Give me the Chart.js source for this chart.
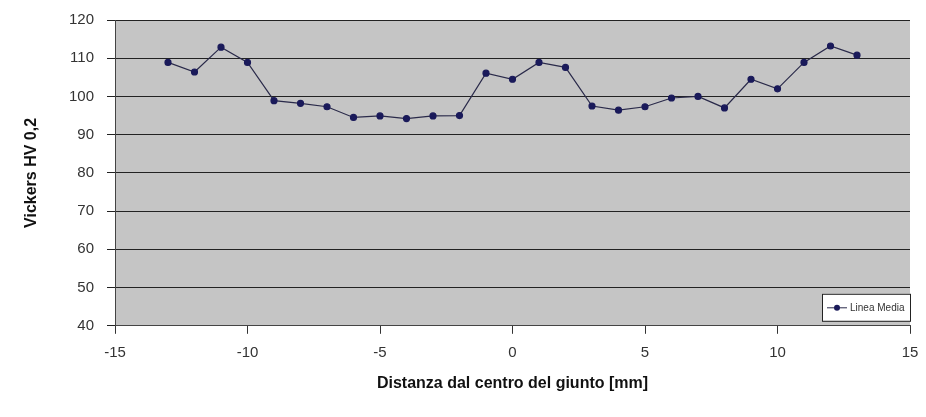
<!DOCTYPE html>
<html><head><meta charset="utf-8">
<script src="https://cdn.jsdelivr.net/npm/chart.js@4.4.1/dist/chart.umd.min.js"></script>
<style>html,body{margin:0;padding:0;background:#fff}#wrap{width:926px;height:417px}</style>
</head><body><div id="wrap"><canvas id="c" width="926" height="417"></canvas></div>
<script>
const distances = [-13,-12,-11,-10,-9,-8,-7,-6,-5,-4,-3,-2,-1,0,1,2,3,4,5,6,7,8,9,10,11,12,13];
const hardness = [108.9,106.4,112.9,108.9,98.9,98.2,97.3,94.5,94.9,94.2,94.9,95.0,106.1,104.5,108.9,107.6,97.5,96.4,97.3,99.6,100.0,97.0,104.5,102.0,108.9,113.2,110.8];
const seriesLabel = 'Linea Media';
const xTitle = 'Distanza dal centro del giunto [mm]';
const yTitle = 'Vickers HV 0,2';

const bgPlugin = {
  id: 'bg',
  beforeDraw(chart) {
    const {ctx, chartArea: a} = chart;
    ctx.save();
    ctx.fillStyle = '#c5c5c5';
    ctx.fillRect(a.left, a.top, a.right - a.left, a.bottom - a.top);
    ctx.restore();
  },
  afterDraw(chart) {
    const {ctx, chartArea: a} = chart;
    const ds = chart.data.datasets[0];
    const w = 88, h = 27;
    const x0 = a.right - w, y0 = a.bottom - h - 5;
    ctx.save();
    ctx.fillStyle = '#ffffff';
    ctx.fillRect(x0, y0, w, h);
    ctx.strokeStyle = '#222';
    ctx.lineWidth = 1;
    ctx.strokeRect(x0 + 0.5, y0 + 0.5, w, h);
    const ly = y0 + h / 2 + 0.5;
    ctx.strokeStyle = ds.borderColor;
    ctx.beginPath(); ctx.moveTo(x0 + 5, ly); ctx.lineTo(x0 + 25, ly); ctx.stroke();
    ctx.fillStyle = ds.pointBackgroundColor;
    ctx.beginPath(); ctx.arc(x0 + 15, ly, 3, 0, Math.PI * 2); ctx.fill();
    ctx.fillStyle = '#333';
    ctx.font = '10px "Liberation Sans", Arial, sans-serif';
    ctx.textBaseline = 'middle';
    ctx.fillText(ds.label, x0 + 28, ly);
    ctx.restore();
  }
};

new Chart(document.getElementById('c'), {
  type: 'scatter',
  data: {
    datasets: [{
      label: seriesLabel,
      data: distances.map((d, i) => ({x: d, y: hardness[i]})),
      showLine: true,
      borderColor: '#2a2a4a',
      borderWidth: 1.2,
      pointBackgroundColor: '#1a1a5a',
      pointBorderColor: '#1a1a5a',
      pointRadius: 3,
      tension: 0
    }]
  },
  plugins: [bgPlugin],
  options: {
    responsive: false,
    animation: false,
    layout: {autoPadding: false, padding: {top: 20, right: 16, left: 22, bottom: 24}},
    plugins: {legend: {display: false}, tooltip: {enabled: false}},
    scales: {
      x: {
        type: 'linear', min: -15, max: 15,
        ticks: {stepSize: 5, color: '#333', padding: 10, font: {size: 15, family: '"Liberation Sans", Arial, sans-serif'}},
        grid: {drawOnChartArea: false, drawTicks: true, tickLength: 8, color: '#333'},
        border: {color: '#444', width: 1},
        title: {display: true, text: xTitle, color: '#111', padding: {top: 2, bottom: 0}, font: {size: 16, weight: 'bold', family: '"Liberation Sans", Arial, sans-serif'}},
        afterFit(s) { s.paddingLeft = 0; s.paddingRight = 0; }
      },
      y: {
        min: 40, max: 120,
        ticks: {stepSize: 10, color: '#333', padding: 13, font: {size: 15, family: '"Liberation Sans", Arial, sans-serif'}},
        grid: {color: '#222', lineWidth: 1, tickLength: 8},
        border: {color: '#444', width: 1},
        title: {display: true, text: yTitle, color: '#111', padding: {top: 0, bottom: 0}, font: {size: 16, weight: 'bold', family: '"Liberation Sans", Arial, sans-serif'}},
        afterFit(s) { s.width = 93; s.paddingTop = 0; s.paddingBottom = 0; }
      }
    }
  }
});
</script></body></html>
